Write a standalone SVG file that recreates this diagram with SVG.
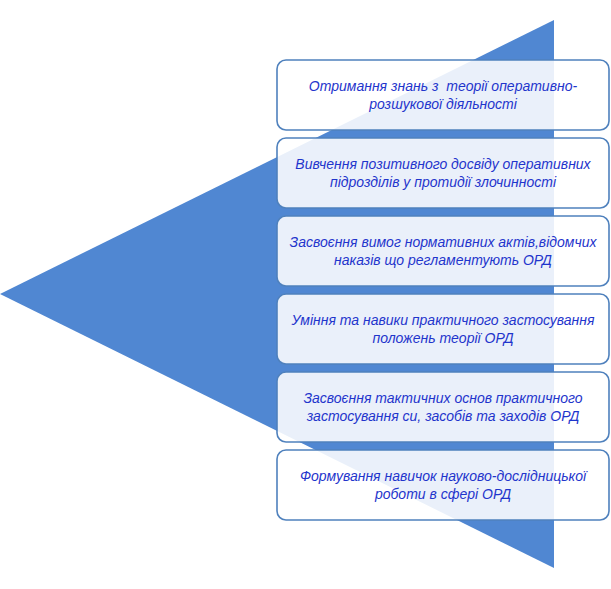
<svg xmlns="http://www.w3.org/2000/svg" width="611" height="589" viewBox="0 0 611 589">
<style>
.box{fill:#ffffff;fill-opacity:0.88;stroke:#4F81BD;stroke-width:1.6}
.t{font-family:"Liberation Sans",Arial,sans-serif;font-style:italic;font-size:14px;fill:#1F35CC;text-anchor:middle}
</style>
<rect width="611" height="589" fill="#ffffff"/>
<polygon id="triangle" points="0,294 554,20 554,568" fill="#5087D2"/>
<g id="n1"><rect class="box" x="277" y="60" width="332" height="70" rx="9"/>
<text class="t" x="443" y="91" xml:space="preserve">Отримання знань з  теорії оперативно-</text>
<text class="t" x="443" y="109">розшукової діяльності</text></g>
<g id="n2"><rect class="box" x="277" y="138" width="332" height="70" rx="9"/>
<text class="t" x="443" y="169">Вивчення позитивного досвіду оперативних</text>
<text class="t" x="443" y="187">підрозділів у протидії злочинності</text></g>
<g id="n3"><rect class="box" x="277" y="216" width="332" height="70" rx="9"/>
<text class="t" x="443" y="247">Засвоєння вимог нормативних актів,відомчих</text>
<text class="t" x="443" y="265">наказів що регламентують ОРД</text></g>
<g id="n4"><rect class="box" x="277" y="294" width="332" height="70" rx="9"/>
<text class="t" x="443" y="325">Уміння та навики практичного застосування</text>
<text class="t" x="443" y="343">положень теорії ОРД</text></g>
<g id="n5"><rect class="box" x="277" y="372" width="332" height="70" rx="9"/>
<text class="t" x="443" y="403">Засвоєння тактичних основ практичного</text>
<text class="t" x="443" y="421">застосування си, засобів та заходів ОРД</text></g>
<g id="n6"><rect class="box" x="277" y="450" width="332" height="70" rx="9"/>
<text class="t" x="443" y="481">Формування навичок науково-дослідницької</text>
<text class="t" x="443" y="499">роботи в сфері ОРД</text></g>
</svg>
